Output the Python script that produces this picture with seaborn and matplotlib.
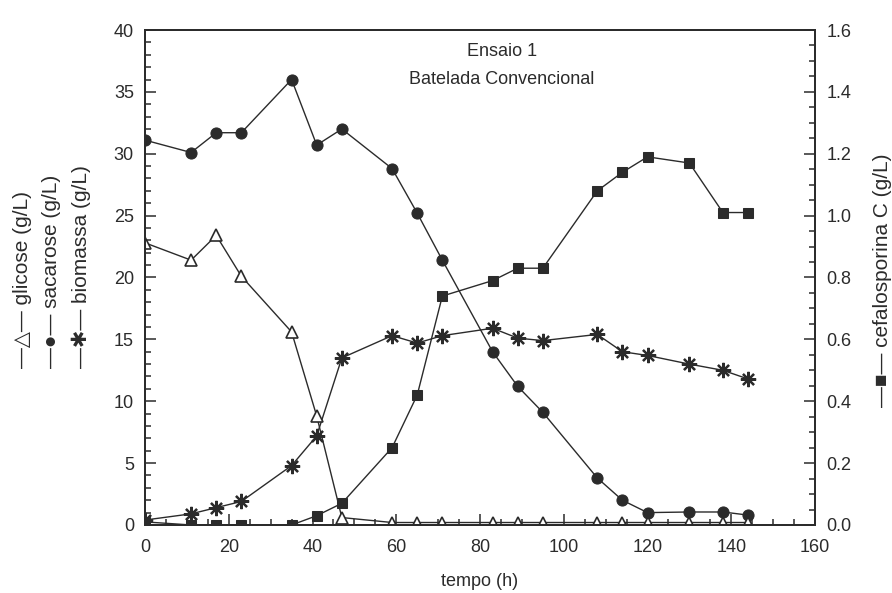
import matplotlib
matplotlib.use("Agg")
import matplotlib.pyplot as plt
from matplotlib.ticker import MultipleLocator
import seaborn as sns
import pandas as pd

# valores (Ensaio 1 - batelada convencional)
tempo = [0, 11, 17, 23, 35, 41, 47, 59, 65, 71, 83, 89, 95, 108, 114, 120, 130, 138, 144]
glicose = [22.8, 21.4, 23.4, 20.1, 15.6, 8.8, 0.6, 0.2, 0.2, 0.2, 0.2, 0.2, 0.2, 0.2, 0.2, 0.2, 0.2, 0.2, 0.2]
sacarose = [31.1, 30.1, 31.7, 31.7, 36.0, 30.7, 32.0, 28.8, 25.2, 21.4, 14.0, 11.2, 9.1,
            3.8, 2.0, 1.0, 1.05, 1.05, 0.8]
biomassa = [0.4, 0.9, 1.4, 1.9, 4.8, 7.2, 13.5, 15.3, 14.7, 15.3, 15.9, 15.1, 14.9,
            15.4, 14.0, 13.7, 13.0, 12.5, 11.8]
cefalosporina = [0.01, 0.0, 0.0, 0.0, 0.0, 0.03, 0.07, 0.25, 0.42, 0.74, 0.79, 0.83, 0.83,
                 1.08, 1.14, 1.19, 1.17, 1.01, 1.01]

df = pd.DataFrame({'tempo': tempo, 'glicose': glicose, 'sacarose': sacarose,
                   'biomassa': biomassa, 'cefalosporina': cefalosporina})

sns.set_theme(style="ticks")
plt.rcParams['font.family'] = ['Liberation Sans', 'DejaVu Sans']
ink = '#2b2b2b'

fig = plt.figure(figsize=(8.92, 5.93), dpi=100)
ax = fig.add_axes([0.1626, 0.1147, 0.7511, 0.8347])
ax2 = ax.twinx()

lw = 1.0
sns.lineplot(data=df, x='tempo', y='sacarose', ax=ax, color=ink, lw=lw, marker='o',
             markersize=8, markerfacecolor=ink, markeredgecolor=ink)
sns.lineplot(data=df, x='tempo', y='biomassa', ax=ax, color=ink, lw=lw, marker=(8, 2, 0),
             markersize=11, markeredgewidth=1.6, markeredgecolor=ink)
sns.lineplot(data=df, x='tempo', y='glicose', ax=ax, color=ink, lw=lw, marker='^',
             markersize=9, markerfacecolor='white', markeredgecolor=ink, markeredgewidth=1.2)
sns.lineplot(data=df, x='tempo', y='cefalosporina', ax=ax2, color=ink, lw=lw, marker='s',
             markersize=7, markerfacecolor=ink, markeredgecolor=ink)

ax.set_xlim(0, 160)
ax.set_ylim(0, 40)
ax2.set_ylim(0, 1.6)
ax.xaxis.set_major_locator(MultipleLocator(20))
ax.xaxis.set_minor_locator(MultipleLocator(5))
ax.yaxis.set_major_locator(MultipleLocator(5))
ax.yaxis.set_minor_locator(MultipleLocator(1))
ax2.yaxis.set_major_locator(MultipleLocator(0.2))
ax2.yaxis.set_minor_locator(MultipleLocator(0.05))
ax2.set_yticklabels([f'{v:.1f}' for v in ax2.get_yticks()])

for a in (ax, ax2):
    a.tick_params(which='both', direction='in', colors=ink, labelsize=13, width=1.1)
    a.tick_params(which='major', length=8, pad=8)
    a.tick_params(which='minor', length=4.5)
    for s in a.spines.values():
        s.set_color(ink)
        s.set_linewidth(1.3)
ax.tick_params(axis='x', which='major', pad=10)
ax.tick_params(axis='y', which='both', right=False)
ax.tick_params(axis='x', which='both', top=False)

ax.set_xlabel('tempo (h)', fontsize=13, color=ink, labelpad=12)
ax.set_ylabel('')
ax2.set_ylabel('')

ax.text(0.533, 0.956, 'Ensaio 1', transform=ax.transAxes, ha='center', va='center',
        fontsize=13, color=ink)
ax.text(0.533, 0.899, 'Batelada Convencional', transform=ax.transAxes, ha='center',
        va='center', fontsize=13, color=ink)

# rotulos dos eixos com simbolos das series
lab = dict(rotation=90, ha='center', va='bottom', fontsize=15, color=ink)
fig.text(23 / 892, 1 - 368 / 593, '—△— glicose (g/L)', **lab)
fig.text(52 / 892, 1 - 368 / 593, '—●— sacarose (g/L)', **lab)
fig.text(81 / 892, 1 - 368 / 593, '—✱— biomassa (g/L)', **lab)
fig.text(882 / 892, 1 - 407 / 593, '—■— cefalosporina C (g/L)', **lab)

fig.savefig('out.png', dpi=100)
